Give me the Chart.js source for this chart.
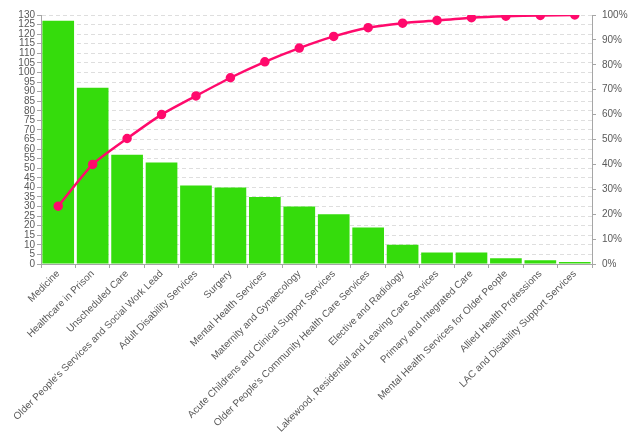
<!DOCTYPE html>
<html>
<head>
<meta charset="utf-8">
<script src="https://cdn.jsdelivr.net/npm/chart.js@4"></script>
<style>
  html, body { margin: 0; padding: 0; background: #fff; }
  #wrap { width: 638px; height: 433px; position: relative; }
</style>
</head>
<body>
<div id="wrap"><canvas id="pareto"></canvas></div>
<script>
// categories and values
const departments = [
    'Medicine', 'Healthcare in Prison', 'Unscheduled Care',
    "Older People's Services and Social Work Lead", 'Adult Disability Services',
    'Surgery', 'Mental Health Services', 'Maternity and Gynaecology',
    'Acute Childrens and Clinical Support Services',
    "Older People's Community Health Care Services", 'Elective and Radiology',
    'Lakewood, Residential and Leaving Care Services', 'Primary and Integrated Care',
    'Mental Health Services for Older People', 'Allied Health Professions',
    'LAC and Disability Support Services'
];
const counts = [127, 92, 57, 53, 41, 40, 35, 30, 26, 19, 10, 6, 6, 3, 2, 1];
const cumulativePct = [23.2, 40.0, 50.4, 60.0, 67.5, 74.8, 81.2, 86.7, 91.4, 94.9, 96.7, 97.8, 98.9, 99.5, 99.8, 100];

const leftTicks = { min: 0, max: 130, step: 5 };
const rightTicks = { min: 0, max: 100, step: 10 };

const textColor = '#595959';
const axisColor = '#a6a6a6';
const font = { family: 'Liberation Sans', size: 10 };

new Chart(document.getElementById('pareto'), {
    type: 'bar',
    data: {
        labels: departments,
        datasets: [{
            type: 'line',
            data: cumulativePct,
            yAxisID: 'yPct',
            borderColor: '#ff0a6c',
            backgroundColor: '#ff0a6c',
            borderWidth: 2.5,
            pointRadius: 3.5,
            pointHoverRadius: 3.5,
            tension: 0.2,
            order: 0
        }, {
            data: counts,
            yAxisID: 'y',
            backgroundColor: '#35dc0c',
            categoryPercentage: 1,
            barPercentage: 0.92,
            order: 1
        }]
    },
    options: {
        responsive: true,
        maintainAspectRatio: false,
        animation: false,
        layout: { padding: { top: 15, left: 0, right: 0, bottom: 0 } },
        plugins: { legend: { display: false }, tooltip: { enabled: false } },
        scales: {
            x: {
                offset: true,
                grid: { offset: true, drawOnChartArea: false, tickLength: 4, color: axisColor },
                border: { color: axisColor },
                ticks: { color: textColor, font: font, minRotation: 45, maxRotation: 45, autoSkip: false, padding: 0 },
                afterFit: s => { s.height = 169; }
            },
            y: {
                position: 'left',
                min: leftTicks.min, max: leftTicks.max,
                grid: { color: '#dedede', tickLength: 4, tickColor: axisColor, tickBorderDash: [] },
                border: { color: axisColor, dash: [4, 3] },
                ticks: { stepSize: leftTicks.step, autoSkip: false, color: textColor, font: font, padding: 2 },
                afterFit: s => { s.width = 41; }
            },
            yPct: {
                position: 'right',
                min: rightTicks.min, max: rightTicks.max,
                grid: { drawOnChartArea: false, tickLength: 4, color: axisColor },
                border: { color: axisColor },
                ticks: { stepSize: rightTicks.step, color: textColor, font: font, padding: 6,
                         callback: v => v + '%' },
                afterFit: s => { s.width = 46; }
            }
        }
    }
});
</script>
</body>
</html>
